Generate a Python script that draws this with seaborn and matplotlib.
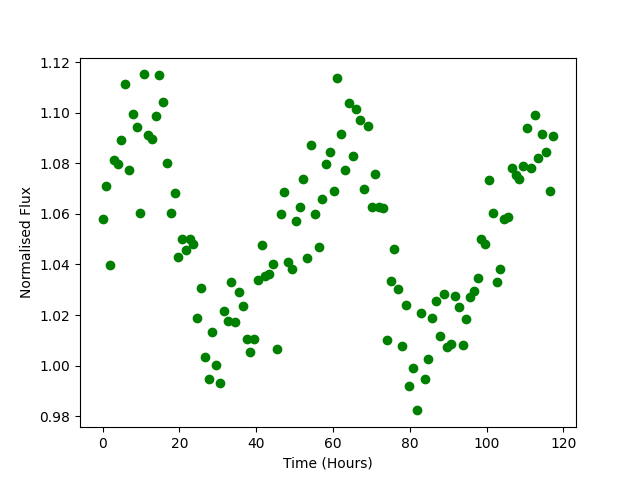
import numpy as np
import pandas as pd
import matplotlib
matplotlib.use("Agg")
import matplotlib.pyplot as plt
import seaborn as sns

# Sampling grid: 120 evenly spaced observations spanning 0 to 117.4 hours
n_obs = 120
t_end = 117.4
time_hours = np.linspace(0.0, t_end, n_obs)

flux = [
    1.0578, 1.0708, 1.0396, 1.0812, 1.0798, 1.0890, 1.1112, 1.0772, 1.0993, 1.0942,
    1.0602, 1.1151, 1.0910, 1.0894, 1.0985, 1.1147, 1.1041, 1.0799, 1.0602, 1.0681,
    1.0428, 1.0500, 1.0455, 1.0499, 1.0480, 1.0190, 1.0305, 1.0036, 0.9949, 1.0131,
    1.0004, 0.9933, 1.0214, 1.0175, 1.0329, 1.0172, 1.0289, 1.0234, 1.0107, 1.0052,
    1.0107, 1.0337, 1.0475, 1.0355, 1.0364, 1.0400, 1.0065, 1.0599, 1.0686, 1.0410,
    1.0380, 1.0570, 1.0627, 1.0737, 1.0424, 1.0871, 1.0599, 1.0467, 1.0657, 1.0797,
    1.0843, 1.0689, 1.1136, 1.0914, 1.0773, 1.1037, 1.0827, 1.1013, 1.0969, 1.0698,
    1.0946, 1.0627, 1.0757, 1.0628, 1.0621, 1.0101, 1.0334, 1.0459, 1.0301, 1.0077,
    1.0238, 0.9921, 0.9989, 0.9823, 1.0206, 0.9949, 1.0028, 1.0190, 1.0254, 1.0119,
    1.0285, 1.0072, 1.0084, 1.0277, 1.0230, 1.0080, 1.0186, 1.0273, 1.0293, 1.0345,
    1.0500, 1.0479, 1.0733, 1.0602, 1.0329, 1.0380, 1.0578, 1.0586, 1.0780, 1.0752,
    1.0736, 1.0789, 1.0938, 1.0780, 1.0989, 1.0819, 1.0914, 1.0843, 1.0689, 1.0906,
]

df = pd.DataFrame({"Time (Hours)": time_hours, "Normalised Flux": flux})

fig, ax = plt.subplots(figsize=(6.4, 4.8), dpi=100)
sns.scatterplot(data=df, x="Time (Hours)", y="Normalised Flux", ax=ax,
                color="green", edgecolor="green", linewidth=1, s=36)
ax.set_xlabel("Time (Hours)")
ax.set_ylabel("Normalised Flux")
fig.savefig("out.png", dpi=100)
